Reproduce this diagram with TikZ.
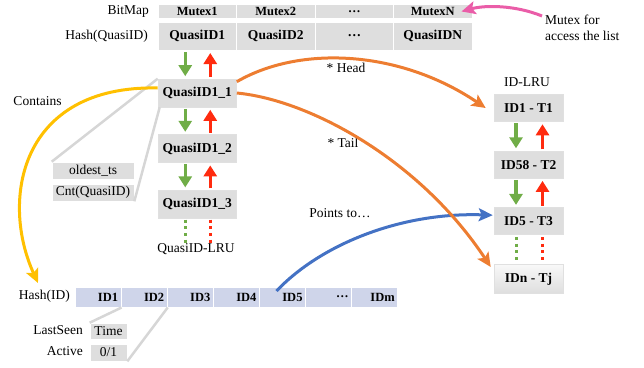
\documentclass[tikz,border=0pt]{standalone}
\usepackage{fontspec}
\setmainfont{Liberation Serif}
\usetikzlibrary{arrows.meta,positioning}

\definecolor{cellgray}{HTML}{DEDEDE}
\definecolor{idblue}{HTML}{CFD5EA}
\definecolor{linkgray}{HTML}{D6D6D6}
\definecolor{grnarr}{HTML}{70AD47}
\definecolor{redarr}{HTML}{FF2B0F}
\definecolor{orgarr}{HTML}{ED7D31}
\definecolor{yelarr}{HTML}{FFC000}
\definecolor{bluarr}{HTML}{4472C4}
\definecolor{pnkarr}{HTML}{EA5DA8}

\begin{document}
\begin{tikzpicture}[x=1pt,y=-1pt,
   lbl/.style={inner sep=0pt, font=\fontsize{13.5}{16}\selectfont},
   topcell/.style={fill=cellgray, draw=white, line width=1pt, inner sep=0pt,
      minimum width=78.5pt, font=\fontsize{12.5}{15}\selectfont\bfseries},
   qidcell/.style={topcell, minimum height=28pt, font=\fontsize{13.5}{16}\selectfont\bfseries},
   chaincell/.style={fill=cellgray, draw=black!12, line width=0.6pt, inner sep=0pt,
      minimum height=28pt, font=\fontsize{13.5}{16}\selectfont\bfseries},
   lrucell/.style={chaincell, minimum width=69pt, minimum height=27pt},
   idcell/.style={fill=idblue, draw=white, line width=1pt, inner xsep=3pt, inner ysep=0pt,
      text width=40pt, align=right, minimum height=20pt, font=\fontsize{12.5}{15}\selectfont\bfseries},
   infocell/.style={fill=cellgray, draw=white, line width=0.6pt, inner sep=0pt,
      font=\fontsize{13.5}{16}\selectfont},
   callout/.style={draw=linkgray, line width=2.5pt},
   godown/.style={draw=grnarr, line width=3.5pt, -{Triangle[length=11pt,width=13pt]},
      shorten <=1.5pt, shorten >=2.5pt},
   goup/.style={godown, draw=redarr},
   grndots/.style={draw=grnarr, line width=3pt, dash pattern=on 3pt off 3.7pt},
   reddots/.style={grndots, draw=redarr},
   curvearr/.style={line width=3pt, -{Stealth[length=14pt,width=13pt,inset=3pt]}}
]
   \useasboundingbox (0,0) rectangle (644,367);

   % bitmap of mutexes and the hash of quasi ids
   \foreach \i/\mtx/\qid in {1/Mutex1/QuasiID1, 2/Mutex2/QuasiID2, 3/…/…, 4/MutexN/QuasiIDN} {
      \node[topcell, minimum height=14pt] (mtx\i) at ({118.75+78.5*\i},11.5) {\mtx};
      \node[qidcell] (qid\i) at ({118.75+78.5*\i},36) {\qid};
   }
   \node[lbl, anchor=east] (bitmaplbl) at (149,11.5) {BitMap};
   \node[lbl, anchor=east] (hqlbl) at (148,36) {Hash(QuasiID)};

   % QuasiID-LRU
   \node[chaincell, minimum width=78.5pt] (q11) at (197.25,93) {QuasiID1\_1};
   \node[chaincell, minimum width=78.5pt, below=27pt of q11] (q12) {QuasiID1\_2};
   \node[chaincell, minimum width=78.5pt, below=27pt of q12] (q13) {QuasiID1\_3};
   \node[lbl] (qlrulbl) at (196,249) {QuasiID-LRU};

   \draw[godown] ([xshift=-12pt]qid1.south) -- ([xshift=-12pt]q11.north);
   \draw[goup] ([xshift=13pt]q11.north) -- ([xshift=13pt]qid1.south);
   \draw[godown] ([xshift=-12pt]q11.south) -- ([xshift=-12pt]q12.north);
   \draw[goup] ([xshift=13pt]q12.north) -- ([xshift=13pt]q11.south);
   \draw[godown] ([xshift=-12pt]q12.south) -- ([xshift=-12pt]q13.north);
   \draw[goup] ([xshift=13pt]q13.north) -- ([xshift=13pt]q12.south);
   \draw[grndots] ([xshift=-12pt,yshift=-1pt]q13.south) -- ([xshift=-12pt]q13.south |- qlrulbl.north);
   \draw[reddots] ([xshift=13pt,yshift=-1pt]q13.south) -- ([xshift=13pt]q13.south |- qlrulbl.north);

   % per quasi id info
   \node[infocell, minimum width=82pt, minimum height=17pt] (oldts) at (93,170.5) {oldest\_ts};
   \node[infocell, minimum width=82pt, minimum height=17pt] (cnt) at (93,192.5) {Cnt(QuasiID)};
   \draw[callout] (q11.north west) -- (oldts.north west);
   \draw[callout] ([xshift=2pt]q11.south west) -- (cnt.south east);

   % ID-LRU
   \node[lbl] (idlrulbl) at (527,82) {ID-LRU};
   \node[lrucell] (lru1) at (528.5,108) {ID1 - T1};
   \node[lrucell, below=29pt of lru1] (lru2) {ID58 - T2};
   \node[lrucell, below=29pt of lru2] (lru3) {ID5 - T3};
   \node[lrucell, below=29pt of lru3, minimum height=29pt, top color=cellgray!20,
      bottom color=cellgray] (lru4) {IDn - Tj};

   \draw[godown] ([xshift=-12.5pt]lru1.south) -- ([xshift=-12.5pt]lru2.north);
   \draw[goup] ([xshift=14pt]lru2.north) -- ([xshift=14pt]lru1.south);
   \draw[godown] ([xshift=-12.5pt]lru2.south) -- ([xshift=-12.5pt]lru3.north);
   \draw[goup] ([xshift=14pt]lru3.north) -- ([xshift=14pt]lru2.south);
   \draw[grndots] ([xshift=-12.5pt,yshift=-2pt]lru3.south) -- ([xshift=-12.5pt,yshift=2pt]lru4.north);
   \draw[reddots] ([xshift=14pt,yshift=-2pt]lru3.south) -- ([xshift=14pt,yshift=2pt]lru4.north);

   % hash of ids
   \foreach \i/\id in {1/ID1, 2/ID2, 3/ID3, 4/ID4, 5/ID5, 6/…, 7/IDm}
      \node[idcell] (id\i) at ({52+46.1*\i},297) {\id};
   \node[lbl, anchor=east] (hidlbl) at (70,296) {Hash(ID)};
   \coordinate (hidtip) at (38,283);

   \node[lbl, anchor=east] (lastlbl) at (83,330) {LastSeen};
   \node[lbl, anchor=east] (actlbl) at (83,351) {Active};
   \node[infocell, minimum width=37pt, minimum height=16pt] (tme) at (108.5,331) {Time};
   \node[infocell, minimum width=37pt, minimum height=17pt] (act) at (108.5,352.5) {0/1};
   \draw[callout] (id1.south east) -- (tme.north west);
   \draw[callout] (id2.south east) -- (act.south east);

   % links
   \node[lbl] (contlbl) at (37.5,101) {Contains};
   \node[lbl] (headlbl) at (346,68) {* Head};
   \node[lbl] (taillbl) at (343,143) {* Tail};
   \node[lbl] (ptlbl) at (340,213) {Points to…};
   \node[lbl, anchor=west, align=left] (mnote) at (545,28) {Mutex for\\access the list};

   \draw[curvearr, yelarr] ([yshift=5pt]q11.west) .. controls (20,85) and (0,200) .. (hidtip);
   \draw[curvearr, bluarr] ([xshift=-6pt,yshift=6pt]id5.center) .. controls (320,245) and (400,212) .. ([xshift=-1pt,yshift=6pt]lru3.west);
   \draw[curvearr, orgarr] ([yshift=-3pt]q11.north east) .. controls (300,45) and (400,50) .. ([xshift=-8pt]lru1.west);
   \draw[curvearr, orgarr] (q11.east) .. controls (310,100) and (420,160) .. ([xshift=-3pt,yshift=-3pt]lru4.north west);
   \draw[curvearr, pnkarr] ([xshift=-3pt,yshift=-1pt]mnote.north west) .. controls (515,5) and (485,5) .. ([xshift=-11pt]mtx4.east);
\end{tikzpicture}
\end{document}
